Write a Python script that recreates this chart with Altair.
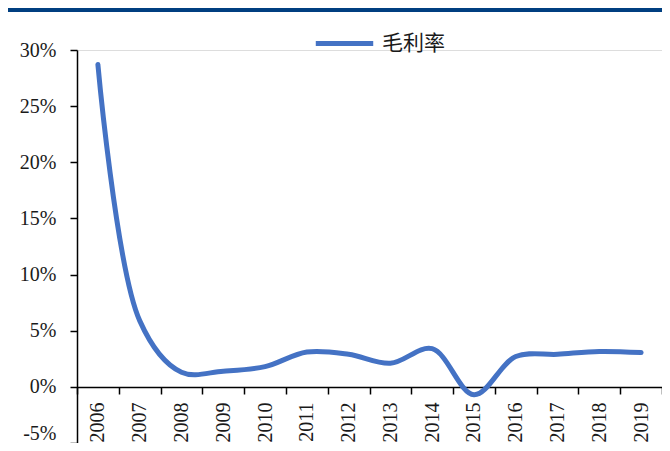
import altair as alt
import pandas as pd

years = ["2006", "2007", "2008", "2009", "2010", "2011", "2012", "2013", "2014", "2015", "2016", "2017", "2018", "2019"]
margin = [0.287, 0.059, 0.013, 0.014, 0.018, 0.031, 0.029, 0.021, 0.034, -0.007, 0.027, 0.029, 0.0315, 0.0305]
series = ["毛利率"] * len(years)
y_ticks = [-0.05, 0, 0.05, 0.10, 0.15, 0.20, 0.25, 0.30]

df = pd.DataFrame({"year": years, "value": margin, "series": series})

font = "Liberation Serif"

line = alt.Chart(df).mark_line(strokeWidth=5, interpolate="catmull-rom", strokeCap="round").encode(
    x=alt.X("year:N", sort=years, title=None,
            scale=alt.Scale(paddingInner=0, paddingOuter=0),
            axis=alt.Axis(labelAngle=-90, tickBand="extent", offset=-56, labelFont=font,
                          labelFontSize=20, labelColor="#1a1a1a", domainColor="black", tickColor="black",
                          domainWidth=1.5, tickWidth=1.5, tickSize=7, labelPadding=8,
                          labelBaseline="middle", labelAlign="right")),
    y=alt.Y("value:Q", title=None,
            scale=alt.Scale(domain=[-0.05, 0.30], nice=False),
            axis=alt.Axis(values=y_ticks, labelExpr="replace(format(datum.value, '.0%'), '−', '-')",
                          labelBaseline=alt.condition("datum.value < -0.04", alt.value("bottom"), alt.value("middle")),
                          grid=False, labelFont=font, labelFontSize=20, labelColor="#1a1a1a",
                          domainColor="black", tickColor="black", domainWidth=1.5, tickWidth=1.5,
                          tickSize=7, labelPadding=14)),
    color=alt.Color("series:N", scale=alt.Scale(range=["#4472C4"]), title=None,
                    legend=alt.Legend(orient="none", legendX=236, legendY=-38, symbolType="stroke",
                                      symbolStrokeWidth=5, symbolSize=3300, labelFont="Noto Sans CJK SC",
                                      labelFontSize=21, labelColor="#1a1a1a", labelOffset=6)),
)

topbar = alt.Chart(df).mark_rule(color="#003F80", strokeWidth=4, clip=False).encode(
    x=alt.value(-69), x2=alt.value(585), y=alt.value(-40.5)
)

chart = alt.layer(topbar, line).properties(
    width=585, height=393,
    autosize=alt.AutoSizeParams(type="none"),
    padding={"left": 69, "top": 42, "right": 0, "bottom": 0},
).configure_view(stroke=None).configure(background="white")

chart.save("out.html", embed_options={"renderer": "svg", "actions": False})
